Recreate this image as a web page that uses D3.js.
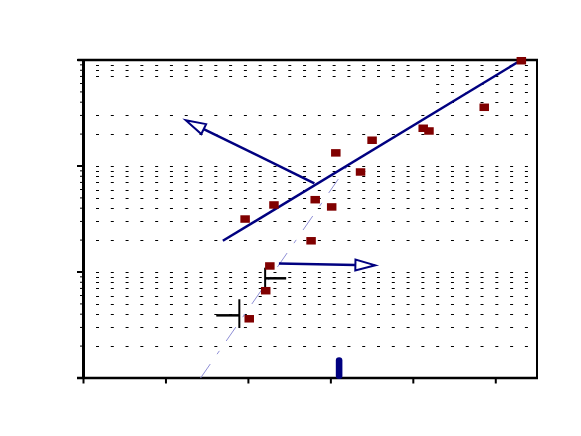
<!DOCTYPE html>
<html>
<head>
<meta charset="utf-8">
<script src="https://cdn.jsdelivr.net/npm/d3@7"></script>
<style>
  html, body { margin: 0; padding: 0; background: #fff; }
  svg { display: block; }
</style>
</head>
<body>
<svg id="chart" width="581" height="436"></svg>
<script>
// ---- data ----
const xTicks = [0, 10, 20, 30, 40, 50];
const yMajorTicks = [1, 10, 100, 1000];
const pointX = [53.1, 48.6, 41.2, 41.9, 35.0, 30.6, 33.6, 28.1, 23.1, 30.1, 19.6, 27.6, 22.6, 22.1, 20.1];
const pointY = [984, 358, 227, 214, 175, 133, 87.8, 48.1, 42.9, 41.1, 31.6, 19.7, 11.4, 6.66, 3.62];
const fitLineX = [16.9, 53.1];
const fitLineY = [19.7, 1000];
const refLineX = [14.2, 32.0];
const refLineY = [1, 100];
const arrowAX = [28.0, 12.4];   // from, to (tip)
const arrowAY = [68.7, 270];
const arrowBX = [23.7, 35.4];
const arrowBY = [12.0, 11.56];
const errA = { x: 18.9, y: 3.9, yLo: 2.96, yHi: 5.53, xLo: 16.1 };
const errB = { x: 22.03, y: 8.72, yLo: 7.22, yHi: 10.98, xHi: 24.58 };
const pillX = 31.0, pillY = [1, 1.57];

// ---- scales ----
const svg = d3.select("#chart");
const X0 = 83.5, X1 = 537, Y0 = 378, Y1 = 60;
const x = d3.scaleLinear().domain([0, 55]).range([X0, X1]);
const y = d3.scaleLog().domain([1, 1000]).range([Y0, Y1]);
const navy = "#000080";

// ---- gridlines (log minor + major) ----
const gridVals = [];
[1, 10, 100].forEach(d => { for (let m = 1; m <= 9; m++) { const v = d * m; if (v > 1) gridVals.push(v); } });
svg.append("g").selectAll("line").data(gridVals).join("line")
  .attr("x1", 96).attr("x2", 530)
  .attr("y1", d => Math.round(y(d)) + 0.5).attr("y2", d => Math.round(y(d)) + 0.5)
  .attr("stroke", "#000").attr("stroke-width", 1)
  .attr("stroke-dasharray", "3,11.79");

// blank patch that hides part of the top decade gridlines
svg.append("rect")
  .attr("x", x(0) + 1).attr("width", x(42.0) - x(0))
  .attr("y", y(650)).attr("height", y(360) - y(650))
  .attr("fill", "#fff");

// ---- frame ----
svg.append("line").attr("x1", X0 - 6).attr("x2", X1 + 1).attr("y1", Y1).attr("y2", Y1)
  .attr("stroke", "#000").attr("stroke-width", 2.5);
svg.append("line").attr("x1", X1).attr("x2", X1).attr("y1", Y1).attr("y2", Y0)
  .attr("stroke", "#000").attr("stroke-width", 2);

// ---- axes ----
const yMinor = gridVals.filter(v => !yMajorTicks.includes(v));
svg.append("g").selectAll("line").data(yMinor).join("line")
  .attr("x1", X0 - 3.5).attr("x2", X0)
  .attr("y1", d => y(d)).attr("y2", d => y(d))
  .attr("stroke", "#000").attr("stroke-width", 1);
svg.append("g").selectAll("line").data(yMajorTicks).join("line")
  .attr("x1", X0 - 6.5).attr("x2", X0)
  .attr("y1", d => y(d)).attr("y2", d => y(d))
  .attr("stroke", "#000").attr("stroke-width", 2);
svg.append("g").selectAll("line").data(xTicks).join("line")
  .attr("x1", d => x(d)).attr("x2", d => x(d))
  .attr("y1", Y0).attr("y2", Y0 + 5.5)
  .attr("stroke", "#000").attr("stroke-width", 2);
svg.append("line").attr("x1", X0).attr("x2", X0).attr("y1", Y1 - 1).attr("y2", Y0 + 1)
  .attr("stroke", "#000").attr("stroke-width", 3);
svg.append("line").attr("x1", X0 - 6.5).attr("x2", X1 + 1).attr("y1", Y0).attr("y2", Y0)
  .attr("stroke", "#000").attr("stroke-width", 2.5);

// ---- reference dashed line ----
svg.append("line")
  .attr("x1", x(refLineX[0])).attr("y1", y(refLineY[0]))
  .attr("x2", x(refLineX[1])).attr("y2", y(refLineY[1]))
  .attr("stroke", "#8f8fd6").attr("stroke-width", 1)
  .attr("stroke-dasharray", "17,12,4,12");

// ---- error bars ----
const eb = svg.append("g").attr("stroke", "#000");
eb.append("line").attr("x1", x(errA.x)).attr("x2", x(errA.x)).attr("y1", y(errA.yHi)).attr("y2", y(errA.yLo)).attr("stroke-width", 2);
eb.append("line").attr("x1", x(errA.xLo)).attr("x2", x(errA.x)).attr("y1", y(errA.y)).attr("y2", y(errA.y)).attr("stroke-width", 2.5);
eb.append("line").attr("x1", x(errB.x)).attr("x2", x(errB.x)).attr("y1", y(errB.yHi)).attr("y2", y(errB.yLo)).attr("stroke-width", 2);
eb.append("line").attr("x1", x(errB.x)).attr("x2", x(errB.xHi)).attr("y1", y(errB.y)).attr("y2", y(errB.y)).attr("stroke-width", 2.5);

// ---- fit line ----
svg.append("line")
  .attr("x1", x(fitLineX[0])).attr("y1", y(fitLineY[0]))
  .attr("x2", x(fitLineX[1])).attr("y2", y(fitLineY[1]))
  .attr("stroke", navy).attr("stroke-width", 2.5);

// ---- arrows with open heads ----
function arrow(xs, ys) {
  const ax = x(xs[0]), ay = y(ys[0]), bx = x(xs[1]), by = y(ys[1]);
  const dx = bx - ax, dy = by - ay, L = Math.hypot(dx, dy);
  const ux = dx / L, uy = dy / L, len = 20, hw = 5.5;
  const mx = bx - ux * len, my = by - uy * len;
  svg.append("line").attr("x1", ax).attr("y1", ay).attr("x2", mx).attr("y2", my)
    .attr("stroke", navy).attr("stroke-width", 2.5);
  const pts = [[bx, by], [mx - uy * hw, my + ux * hw], [mx + uy * hw, my - ux * hw]];
  svg.append("polygon").attr("points", pts.map(p => p.join(",")).join(" "))
    .attr("fill", "#fff").attr("stroke", navy).attr("stroke-width", 2).attr("stroke-linejoin", "miter");
}
arrow(arrowAX, arrowAY);
arrow(arrowBX, arrowBY);

// ---- pill marker ----
svg.append("rect")
  .attr("x", x(pillX) - 3.3).attr("width", 6.6)
  .attr("y", y(pillY[1])).attr("height", y(pillY[0]) - y(pillY[1]) + 1)
  .attr("rx", 3.3).attr("ry", 3.3)
  .attr("fill", navy);

// ---- data squares ----
svg.append("g").selectAll("rect").data(pointX.map((d, i) => [d, pointY[i]])).join("rect")
  .attr("x", d => x(d[0]) - 4.75).attr("y", d => y(d[1]) - 3.75)
  .attr("width", 9.5).attr("height", 7.5)
  .attr("fill", "#800000");
</script>
</body>
</html>
